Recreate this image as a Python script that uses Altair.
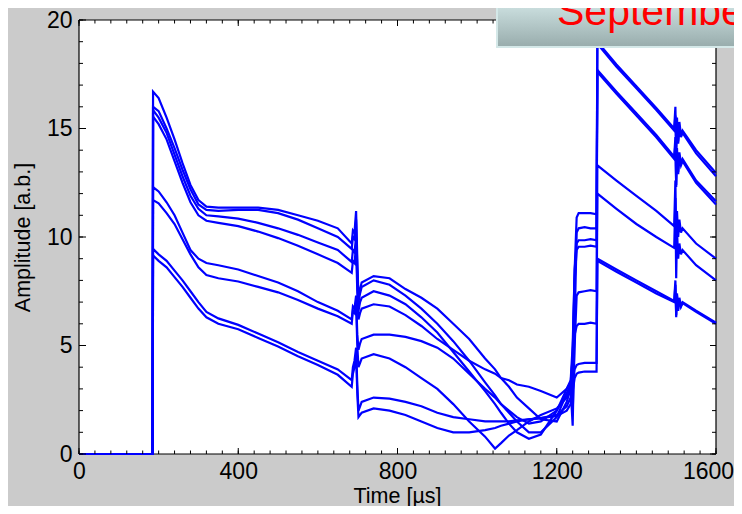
import altair as alt
import pandas as pd

# ---------------- data ----------------
t_us = [0, 185,
        186, 200, 220, 240, 260, 280, 300, 320, 350, 400, 450, 500, 550, 600, 650, 685,
        688, 692, 696, 699, 702, 706,
        710, 740, 780, 820, 860, 900, 940, 980, 1020, 1045, 1060, 1080, 1100, 1130, 1160, 1200, 1225,
        1235, 1240, 1245, 1250, 1255, 1270, 1285, 1300,
        1302, 1350, 1400, 1450, 1495,
        1498, 1500, 1502, 1505, 1508, 1512, 1516,
        1550, 1600]

A1 = [0, 0,
      16.7, 16.4, 15.5, 14.5, 13.4, 12.4, 11.7, 11.4, 11.35, 11.35, 11.35, 11.25, 11.0, 10.75, 10.4, 9.7,
      10.3, 10.2, 11.2, 9.0, 7.2, 7.6,
      7.9, 8.2, 8.1, 7.6, 7.2, 6.7, 6.0, 5.3, 4.4, 3.9, 3.5, 3.1, 2.6, 2.1, 1.6, 1.5, 2.4,
      3.0, 4.5, 8.5, 10.9, 11.1, 11.1, 11.1, 11.05,
      19.0, 17.95, 16.95, 15.95, 15.0,
      16.0, 14.0, 15.5, 14.4, 15.3, 14.7, 14.9,
      14.0, 12.95]
A2 = [0, 0,
      16.0, 15.8, 15.0, 14.1, 13.1, 12.2, 11.5, 11.25, 11.2, 11.25, 11.25, 11.1, 10.8, 10.4, 10.0, 9.45,
      10.0, 9.9, 10.8, 8.5, 7.0, 7.4,
      7.7, 8.0, 7.8, 7.3, 6.7, 6.0, 5.2, 4.3, 3.3, 2.7, 2.3, 1.9, 1.5, 1.0, 1.0, 1.7, 2.8,
      3.0, 1.3, 6.0, 10.2, 10.4, 10.45, 10.4, 10.4,
      18.9, 17.85, 16.85, 15.85, 14.9,
      15.6, 13.9, 15.3, 14.3, 15.1, 14.6, 14.8,
      13.85, 12.8]
A3 = [0, 0,
      15.85, 15.5, 14.8, 13.8, 12.8, 11.9, 11.3, 11.0, 10.95, 10.85, 10.65, 10.4, 10.1, 9.75, 9.4, 8.85,
      9.4, 9.3, 10.0, 8.0, 6.6, 7.0,
      7.2, 7.5, 7.3, 6.9, 6.3, 5.6, 4.7, 3.8, 2.9, 2.3, 1.9, 1.4, 1.0, 0.7, 0.9, 2.0, 3.0,
      3.4, 5.0, 8.5, 9.7, 9.85, 9.85, 9.9, 9.85,
      17.7, 16.7, 15.7, 14.7, 13.7,
      14.6, 12.4, 14.1, 13.0, 13.9, 13.4, 13.6,
      12.6, 11.65]
A4 = [0, 0,
      15.55, 15.2, 14.5, 13.5, 12.5, 11.6, 11.0, 10.75, 10.65, 10.5, 10.25, 9.95, 9.6, 9.2, 8.8, 8.35,
      8.9, 8.8, 9.6, 7.5, 6.2, 6.5,
      6.7, 6.9, 6.8, 6.4, 5.9, 5.3, 4.8, 4.3, 3.9, 3.7, 3.5, 3.4, 3.2, 3.1, 2.9, 2.6, 3.0,
      3.3, 4.5, 8.0, 9.4, 9.55, 9.55, 9.6, 9.55,
      17.6, 16.6, 15.6, 14.6, 13.6,
      14.3, 12.3, 13.9, 12.9, 13.7, 13.3, 13.5,
      12.5, 11.5]
B1 = [0, 0,
      12.3, 12.1, 11.6, 11.0, 10.2, 9.4, 9.0, 8.8, 8.7, 8.5, 8.2, 7.9, 7.5, 7.0, 6.6, 6.2,
      6.8, 6.7, 7.3, 5.5, 4.8, 5.1,
      5.3, 5.5, 5.5, 5.4, 5.2, 4.9, 4.4, 3.7, 3.0, 2.6, 2.3, 2.0, 1.7, 1.4, 1.5, 2.0, 2.8,
      3.2, 1.9, 5.0, 7.3, 7.45, 7.5, 7.55, 7.5,
      13.3, 12.6, 11.9, 11.2, 10.5,
      12.6, 9.6, 11.2, 10.0, 10.8, 10.2, 10.4,
      9.7, 9.0]
B2 = [0, 0,
      11.7, 11.55, 11.1, 10.6, 9.9, 9.2, 8.6, 8.25, 8.1, 7.95, 7.7, 7.45, 7.1, 6.7, 6.35, 6.0,
      6.6, 6.5, 7.0, 5.0, 4.0, 4.2,
      4.4, 4.6, 4.4, 4.0, 3.5, 3.0, 2.3, 1.5, 0.8, 0.25, 0.5, 0.85, 1.1, 1.5, 1.8, 2.1, 2.6,
      3.0, 3.8, 5.5, 5.9, 6.0, 6.0, 6.05, 6.0,
      12.0, 11.3, 10.6, 10.0, 9.5,
      11.8, 8.1, 10.3, 9.0, 9.7, 9.2, 9.4,
      8.7, 8.0]
C1 = [0, 0,
      9.45, 9.2, 8.9, 8.45, 8.0, 7.5, 7.0, 6.55, 6.25, 5.95, 5.55, 5.15, 4.7, 4.3, 3.9, 3.4,
      4.0, 4.3, 4.9, 3.2, 2.0, 2.2,
      2.4, 2.6, 2.55, 2.4, 2.2, 1.9, 1.7, 1.6, 1.5, 1.5, 1.5, 1.5, 1.55, 1.6, 1.65, 1.8, 2.2,
      2.6, 3.2, 3.9, 4.1, 4.15, 4.2, 4.2, 4.2,
      9.0, 8.5, 8.0, 7.5, 7.05,
      8.0, 6.3, 7.4, 6.7, 7.2, 6.8, 7.0,
      6.6, 6.05]
C2 = [0, 0,
      9.15, 8.9, 8.6, 8.15, 7.7, 7.2, 6.7, 6.3, 6.0, 5.75, 5.35, 4.95, 4.5, 4.1, 3.65, 3.1,
      3.7, 4.0, 4.6, 2.8, 1.7, 1.8,
      1.9, 2.1, 2.0, 1.8, 1.5, 1.2, 1.0, 1.0, 1.1, 1.2, 1.3, 1.4, 1.5, 1.6, 1.65, 1.75, 2.0,
      2.3, 2.9, 3.5, 3.7, 3.75, 3.8, 3.8, 3.8,
      8.9, 8.4, 7.9, 7.4, 7.0,
      7.8, 6.4, 7.3, 6.6, 7.1, 6.8, 6.95,
      6.55, 6.0]

traces = {"A1": A1, "A2": A2, "A3": A3, "A4": A4,
          "B1": B1, "B2": B2, "C1": C1, "C2": C2}

x_major = [0, 400, 800, 1200, 1600]
y_major = [0, 5, 10, 15, 20]
x_minor = list(range(0, 1601, 40))
y_minor = list(range(0, 21, 1))
x_frame = [0, 1600]
y_frame = [0, 20]
banner_text = ["Septembe"]

# ---------------- build ----------------
rows = []
for name, vals in traces.items():
    for t, v in zip(t_us, vals):
        rows.append({"trace": name, "t": t, "v": v})
df = pd.DataFrame(rows)

W, H = 637, 434
FONT = "Liberation Sans"
BLUE = "#0000ff"

xs = alt.Scale(domain=[0, 1600], nice=False, zero=False)
ys = alt.Scale(domain=[0, 20], nice=False, zero=False)

xaxis = alt.Axis(values=x_major, format="d", ticks=False, domain=False, grid=False,
                 labelFontSize=23, labelFont=FONT, labelColor="black",
                 labelPadding=6, labelFlush=False, labelOverlap=False,
                 labelOffset={"condition": {"test": "datum.value == 1600", "value": -8}, "value": 0},
                 title="Time [µs]", titleFont=FONT, titleFontSize=21.5,
                 titleFontWeight="normal", titleColor="black",
                 titleX=318, titleY=48, titleBaseline="alphabetic",
                 titleAlign="center", titleAnchor="middle")
yaxis = alt.Axis(values=y_major, format="d", ticks=False, domain=False, grid=False,
                 labelFontSize=23, labelFont=FONT, labelColor="black",
                 labelPadding=7, labelFlush=False, labelOverlap=False,
                 labelBaseline="middle",
                 title="Amplitude [a.b.]", titleFont=FONT, titleFontSize=21.5,
                 titleFontWeight="normal", titleColor="black",
                 titleAngle=270, titleX=-50, titleY=217,
                 titleBaseline="alphabetic", titleAlign="center")

X = lambda f: alt.X(f, scale=xs, axis=xaxis)
Y = lambda f: alt.Y(f, scale=ys, axis=yaxis)

def xrules(vals, y0, y1, width=1):
    return alt.Chart(pd.DataFrame({"t": vals})).mark_rule(color="black", strokeWidth=width).encode(
        x=X("t:Q"), y=alt.value(y0), y2=alt.value(y1))

def yrules(vals, x0, x1, width=1):
    return alt.Chart(pd.DataFrame({"v": vals})).mark_rule(color="black", strokeWidth=width).encode(
        y=Y("v:Q"), x=alt.value(x0), x2=alt.value(x1))

frame = [xrules(x_frame, 0, H, 1.2), yrules(y_frame, 0, W, 1.2)]

lines = alt.Chart(df).mark_line(color=BLUE, strokeWidth=2.2).encode(
    x=X("t:Q"),
    y=Y("v:Q"),
    detail="trace:N",
    order="t:Q",
)

tick_layers = [
    xrules(x_major, H, H - 6), xrules(x_minor, H, H - 3.5),
    xrules(x_major, 0, 6), xrules(x_minor, 0, 3.5),
    yrules(y_major, 0, 7), yrules(y_minor, 0, 4),
    yrules(y_major, W, W - 6), yrules(y_minor, W, W - 4),
]

box = alt.Chart(pd.DataFrame({"k": [0]})).mark_rect(
    fill=alt.Gradient(gradient="linear", x1=0, x2=0, y1=0, y2=1,
                      stops=[alt.GradientStop(color="#d2e6e6", offset=0),
                             alt.GradientStop(color="#98acac", offset=1)]),
    stroke="#d4e8e8", strokeWidth=2,
).encode(x=alt.value(418), x2=alt.value(700), y=alt.value(-20), y2=alt.value(27))

banner = alt.Chart(pd.DataFrame({"label": banner_text})).mark_text(
    align="left", baseline="alphabetic", fontSize=41, font=FONT, color="#ff0000"
).encode(x=alt.value(478), y=alt.value(5), text="label:N")

chart = alt.layer(*frame, lines, *tick_layers, box, banner).properties(
    width=W, height=H,
    autosize=alt.AutoSizeParams(type="none"),
    padding={"left": 71, "top": 12, "right": 18, "bottom": 52},
    background="#cbcbcb",
).configure_view(fill="white", stroke=None)

chart.save("out.html", embed_options={"renderer": "svg", "actions": False})
